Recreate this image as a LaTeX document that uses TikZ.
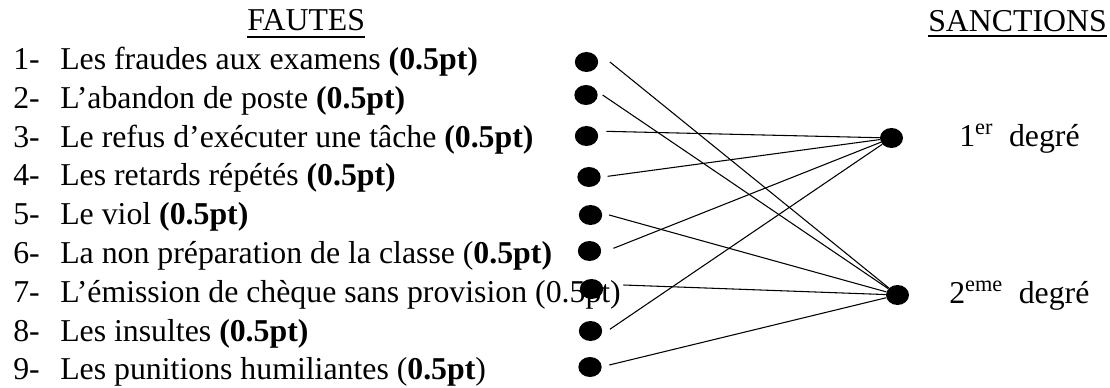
\documentclass[tikz,border=0pt]{standalone}
\usepackage{fontspec}
\setmainfont{Liberation Serif}
\usetikzlibrary{scopes,shapes.geometric}
\tikzset{
  mytext/.style={anchor=base west,inner sep=0pt,font=\fontsize{23.85}{28}\selectfont},
  mydot/.style={ellipse,fill=black,draw=none,inner sep=0pt,minimum width=17.5pt,minimum height=15pt},
  myrule/.style={line width=1.5pt},
  route/.style={line width=0.8pt}
}

\begin{document}
\begin{tikzpicture}[x=0.75pt,y=-0.75pt]
  \useasboundingbox (0,0) rectangle (1110,388);
  % headings
  \node[mytext] (fautes) at (247,31) {FAUTES};
  \node[mytext] (sanctions) at (928,31.5) {SANCTIONS};
  \draw[myrule] ([yshift=-4.3pt]fautes.base west) -- ([yshift=-4.3pt]fautes.base east);
  \draw[myrule] ([yshift=-3.4pt]sanctions.base west) -- ([yshift=-3.4pt]sanctions.base east);
  % the list of faults
  \foreach \i/\txt in {
      1/{Les fraudes aux examens \textbf{(0.5pt)}},
      2/{L’abandon de poste \textbf{(0.5pt)}},
      3/{Le refus d’exécuter une tâche \textbf{(0.5pt)}},
      4/{Les retards répétés \textbf{(0.5pt)}},
      5/{Le viol \textbf{(0.5pt)}},
      6/{La non préparation de la classe (\textbf{0.5pt)}},
      7/{L’émission de chèque sans provision (0.5pt)},
      8/{Les insultes \textbf{(0.5pt)}},
      9/{Les punitions humiliantes (\textbf{0.5pt})}} {
    \node[mytext] (n\i) at (13,69.5+38.8*\i-38.8) {\i-};
    \node[mytext] (f\i) at (60,69.5+38.8*\i-38.8) {\txt};
  }
  % dots
  \foreach \i/\x/\y in {1/586.5/62, 2/586/95, 3/586.5/136, 4/589/177, 5/590.5/215,
      6/589.5/251, 7/591.5/289, 8/590.5/331, 9/590/367}
    \node[mydot] (l\i) at (\x,\y) {};
  \node[mydot,minimum width=17.25pt] (r1) at (891.5,138) {};
  \node[mydot,minimum width=17.25pt] (r2) at (897.5,295) {};
  \node[mytext] (s1) at (959,146.7) {1\textsuperscript{er}\ \ degré};
  \node[mytext] (s2) at (949,303.3) {2\textsuperscript{eme}\ \ degré};
  % links
  {[route]
    \foreach \i/\j/\g/\h in {1/2/8.6/0, 2/2/3.5/0, 3/1/6/3.5, 4/1/5/0.5, 5/2/5/0,
        6/1/9/2, 7/2/15/3, 8/1/5.6/1.3, 9/2/5.5/1.5}
      \draw ([xshift=\g pt,yshift=\h pt]l\i.east) -- (r\j);
  }
\end{tikzpicture}
\end{document}
